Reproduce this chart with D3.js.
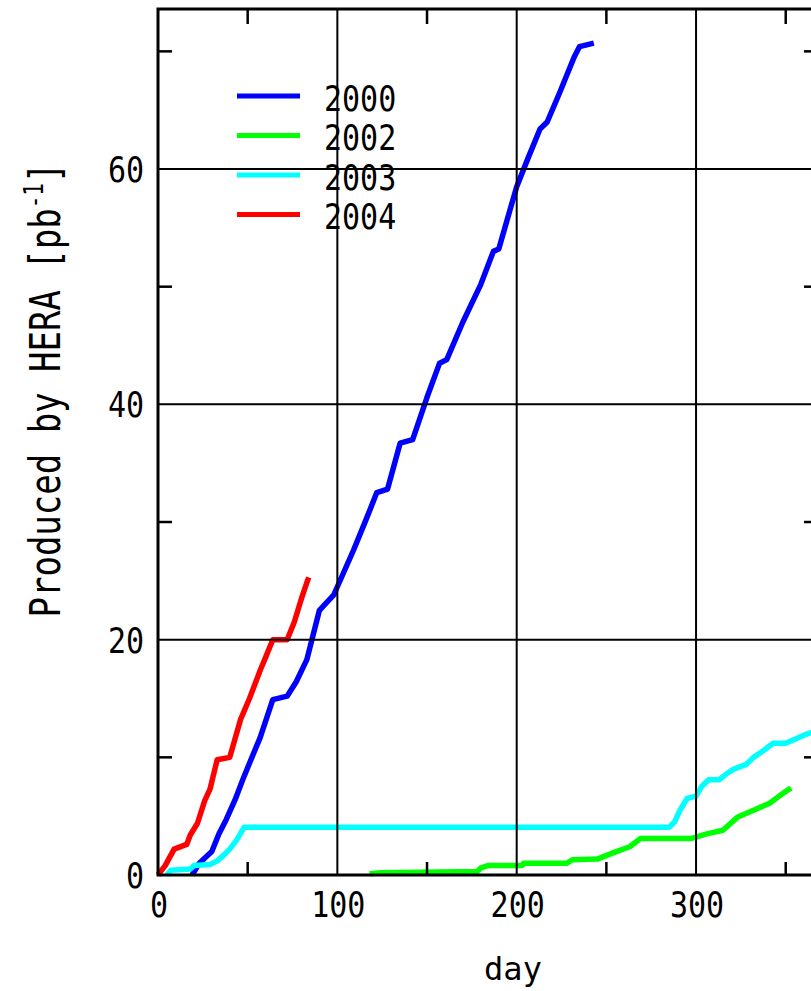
<!DOCTYPE html>
<html>
<head>
<meta charset="utf-8">
<script src="https://cdn.jsdelivr.net/npm/d3@7/dist/d3.min.js"></script>
<style>
  html, body { margin: 0; padding: 0; background: #fff; overflow: hidden; }
  svg { display: block; }
  text { font-family: "DejaVu Sans Mono", monospace; fill: #000; }
</style>
</head>
<body>
<svg id="chart" width="811" height="991"></svg>
<script>
// ---- data (day, integrated luminosity in pb^-1) ----
const years = ["2000", "2002", "2003", "2004"];
const colors = ["#0000ff", "#00ff00", "#00ffff", "#ff0000"];

const lumi2000 = [[19,0],[23,1],[30,2],[34,3.5],[38,4.7],[43,6.4],[47,8],[51,9.5],[57,11.7],[64,14.9],[72,15.2],[77,16.4],[83,18.3],[90,22.5],[98,23.8],[100,24.5],[109,27.6],[116,30.2],[122,32.5],[128,32.8],[135,36.7],[142,37],[150,40.6],[157,43.5],[161,43.8],[170,47],[180,50.2],[187,53],[190,53.2],[200,58.5],[206,60.8],[213,63.4],[217,64],[224,66.5],[232,69.5],[235,70.4],[243,70.7]];
const lumi2002 = [[118,0.1],[124,0.2],[178,0.3],[180,0.6],[184,0.8],[203,0.8],[204,1.0],[228,1.0],[231,1.3],[245,1.35],[254,1.9],[263,2.4],[269,3.1],[297,3.1],[306,3.5],[315,3.8],[323,4.9],[332,5.5],[341,6.1],[349,7],[353,7.4]];
const lumi2003 = [[5,0],[7,0.4],[18,0.5],[20,0.8],[29,0.9],[33,1.2],[36,1.6],[40,2.2],[44,3],[48,4.05],[285,4.05],[288,4.5],[291,5.5],[295,6.5],[300,6.7],[303,7.5],[307,8.1],[313,8.1],[317,8.6],[321,9],[328,9.4],[332,10],[336,10.4],[343,11.2],[350,11.2],[356,11.6],[362,12],[368,12.3]];
const lumi2004 = [[0,0],[4,0.8],[9,2.2],[16,2.6],[18,3.4],[22,4.4],[26,6.3],[29,7.3],[33,9.8],[40,10],[46,13.2],[51,15],[57,17.4],[60,18.5],[64,20],[72,20],[76,21.5],[80,23.5],[84,25.3]];
const seriesData = [lumi2000, lumi2002, lumi2003, lumi2004];

const xMajorTicks = [0, 100, 200, 300];
const xMinorTicks = [50, 150, 250, 350];
const yMajorTicks = [0, 20, 40, 60];
const yMinorTicks = [10, 30, 50, 70];
const xLabel = "day";
const yLabel = "Produced by HERA [pb";

// ---- layout ----
const svg = d3.select("#chart");
const x = d3.scaleLinear().domain([0, 368]).range([158, 818]);
const y = d3.scaleLinear().domain([0, 73.6]).range([875, 9]);

const line = d3.line().x(d => x(d[0])).y(d => y(d[1]));

// curves
const curves = svg.append("g");
seriesData.forEach((s, i) => {
  curves.append("path")
    .datum(s)
    .attr("fill", "none")
    .attr("stroke", colors[i])
    .attr("stroke-width", 5.5)
    .attr("stroke-linejoin", "round")
    .attr("d", line);
});

// grid lines (drawn above curves)
const grid = svg.append("g").attr("stroke", "#000").attr("stroke-width", 2);
xMajorTicks.filter(t => t > 0).forEach(t => {
  grid.append("line").attr("x1", x(t)).attr("x2", x(t)).attr("y1", y.range()[1]).attr("y2", y.range()[0]);
});
yMajorTicks.filter(t => t > 0).forEach(t => {
  grid.append("line").attr("x1", x.range()[0]).attr("x2", x.range()[1]).attr("y1", y(t)).attr("y2", y(t));
});

// minor ticks
const ticks = svg.append("g").attr("stroke", "#000").attr("stroke-width", 2.5);
xMinorTicks.forEach(t => {
  ticks.append("line").attr("x1", x(t)).attr("x2", x(t)).attr("y1", y(0)).attr("y2", y(0) - 13);
  ticks.append("line").attr("x1", x(t)).attr("x2", x(t)).attr("y1", y.range()[1]).attr("y2", y.range()[1] + 15);
});
yMinorTicks.forEach(t => {
  ticks.append("line").attr("x1", x.range()[0]).attr("x2", x.range()[0] + 14).attr("y1", y(t)).attr("y2", y(t));
  ticks.append("line").attr("x1", x.range()[1]).attr("x2", x.range()[1] - 14).attr("y1", y(t)).attr("y2", y(t));
});

// frame
svg.append("rect")
  .attr("x", x.range()[0]).attr("y", y.range()[1])
  .attr("width", x.range()[1] - x.range()[0])
  .attr("height", y.range()[0] - y.range()[1])
  .attr("fill", "none").attr("stroke", "#000").attr("stroke-width", 3);

// tick labels
function stretchedText(g, tx, ty, str, anchor, size, sy) {
  return g.append("text")
    .attr("transform", `translate(${tx},${ty}) scale(1,${sy})`)
    .attr("text-anchor", anchor)
    .style("font-size", size + "px")
    .text(str);
}
const labels = svg.append("g");
yMajorTicks.forEach(t => {
  stretchedText(labels, 144, y(t) + 13, String(t), "end", 30, 1.2);
});
xMajorTicks.forEach(t => {
  stretchedText(labels, x(t) + 1, 917, String(t), "middle", 30, 1.2);
});

// axis titles
svg.append("text")
  .attr("x", 513).attr("y", 980)
  .attr("text-anchor", "middle")
  .style("font-size", "32px")
  .text(xLabel);

const yt = svg.append("text")
  .attr("transform", "translate(60,390) rotate(-90) scale(1,1.25)")
  .attr("text-anchor", "middle")
  .style("font-size", "34px");
yt.append("tspan").text(yLabel);
yt.append("tspan").attr("dy", -14).style("font-size", "21px").text("-1");
yt.append("tspan").attr("dy", 14).text("]");

// legend
const legend = svg.append("g");
years.forEach((yr, i) => {
  const ly = 96 + i * 39.5;
  legend.append("line")
    .attr("x1", 237).attr("x2", 300).attr("y1", ly).attr("y2", ly)
    .attr("stroke", colors[i]).attr("stroke-width", 5);
  stretchedText(legend, 324, ly + 14.5, yr, "start", 30, 1.2);
});
</script>
</body>
</html>
